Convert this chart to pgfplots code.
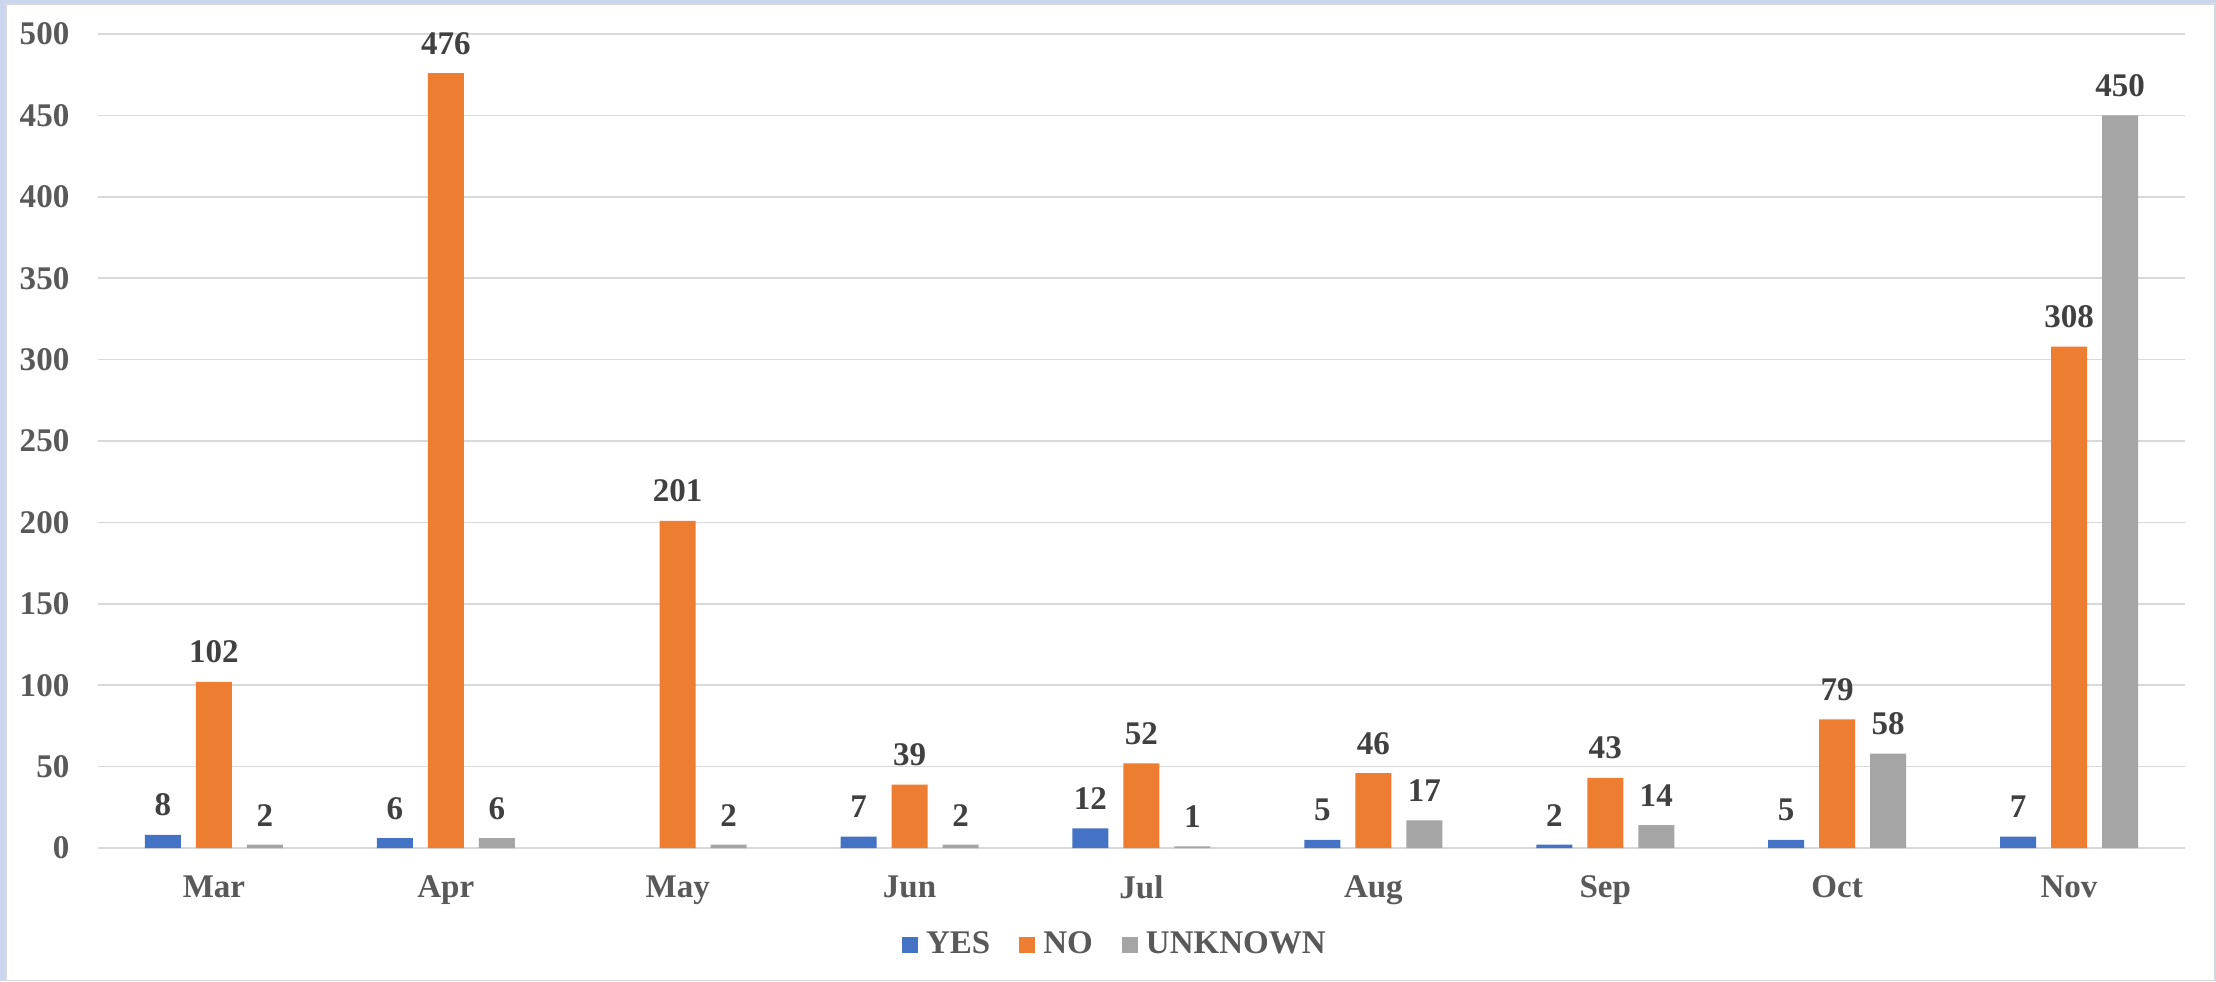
\documentclass[border=0pt]{standalone}
\usepackage{fontspec}
\setmainfont{Liberation Serif}
\usepackage{pgfplots}
\pgfplotsset{compat=1.18}
\definecolor{cyes}{HTML}{4472C4}
\definecolor{cno}{HTML}{ED7D31}
\definecolor{cunk}{HTML}{A5A5A5}
\definecolor{gridc}{HTML}{D9D9D9}
\definecolor{ticktxt}{HTML}{595959}
\definecolor{labtxt}{HTML}{404040}
\definecolor{frameblue}{HTML}{C9D6EE}
\begin{document}
\begin{tikzpicture}
\useasboundingbox (0,0) rectangle (221.6mm,98.1mm);
\fill[frameblue] (0,0) rectangle (221.6mm,98.1mm);
\fill[white,draw=gridc,line width=0.12mm] (0.6mm,0.06mm) rectangle (221.45mm,97.7mm);
\begin{axis}[
  at={(9.8mm,13.3mm)}, anchor=south west,
  scale only axis, width=208.7mm, height=81.4mm,
  ybar=1.5mm, bar width=3.6mm,
  xmin=-0.5, xmax=8.5, ymin=0, ymax=500,
  xtick={0,...,8},
  xticklabels={Mar,Apr,May,Jun,Jul,Aug,Sep,Oct,Nov},
  ytick={0,50,...,500},
  axis x line*=bottom, axis y line*=left,
  x axis line style={draw=gridc, line width=0.15mm, -},
  y axis line style={draw=none},
  ymajorgrids, grid style={draw=gridc, line width=0.15mm},
  major tick length=0pt,
  tick label style={font=\fontsize{9.4}{11}\selectfont\bfseries, text=ticktxt, inner sep=0pt},
  xticklabel style={anchor=north, yshift=-2.7mm},
  yticklabel style={anchor=east, xshift=-2.8mm},
  /pgf/number format/assume math mode=true,
  nodes near coords,
  every node near coord/.append style={font=\fontsize{9.4}{11}\selectfont\bfseries, text=labtxt, inner sep=0pt, anchor=south, yshift=1.8mm},
  legend style={at={(axis description cs:0.4868,-0.119)}, anchor=center, draw=none, fill=none,
    legend columns=3, font=\fontsize{9.4}{11}\selectfont\bfseries, text=ticktxt,
    nodes={inner sep=0pt, anchor=west},
    /tikz/every odd column/.append style={column sep=0.8mm},
    /tikz/every even column/.append style={column sep=2.9mm}},
  legend image code/.code={\fill[#1] (0mm,-0.8mm) rectangle (1.6mm,0.8mm);},
  clip=false,
]
\addplot[fill=cyes, draw=none] coordinates {(0,8) (1,6) (3,7) (4,12) (5,5) (6,2) (7,5) (8,7)};
\addplot[fill=cno, draw=none] coordinates {(0,102) (1,476) (2,201) (3,39) (4,52) (5,46) (6,43) (7,79) (8,308)};
\addplot[fill=cunk, draw=none] coordinates {(0,2) (1,6) (2,2) (3,2) (4,1) (5,17) (6,14) (7,58) (8,450)};
\legend{YES,NO,UNKNOWN}
\end{axis}
\end{tikzpicture}
\end{document}
